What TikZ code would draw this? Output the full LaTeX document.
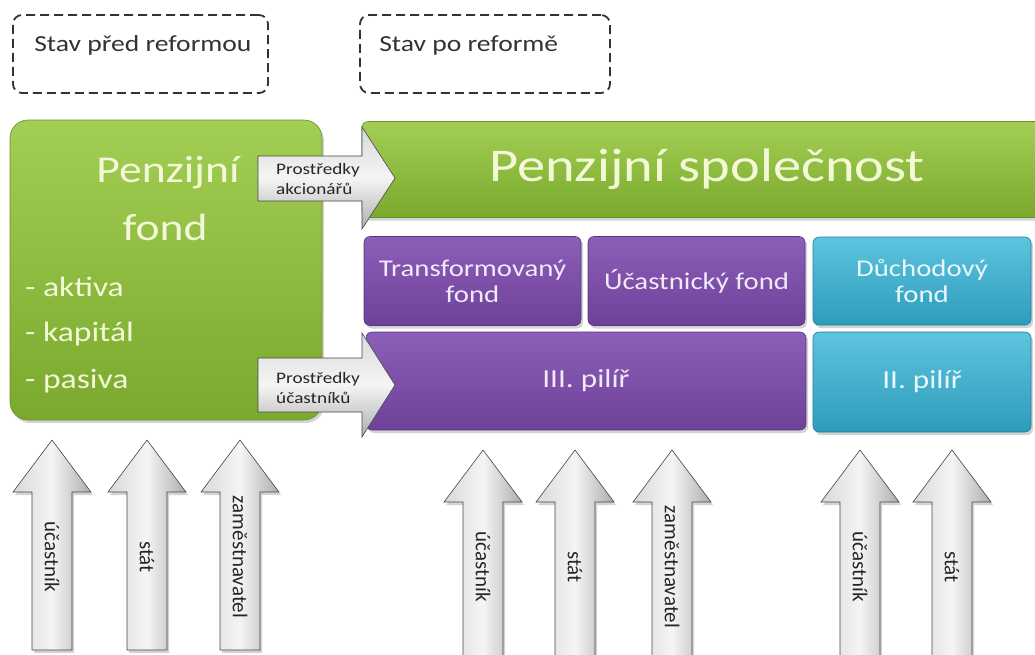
\documentclass[tikz,border=0pt]{standalone}
\usepackage{fontspec}
\setmainfont{Carlito}[FakeStretch=1.2]
\newfontfamily\payfont{Carlito}
\usetikzlibrary{positioning,shadows}

\definecolor{pfgreentop}{HTML}{A2CE53}
\definecolor{pfgreenbot}{HTML}{7AA92E}
\definecolor{pfcream}{HTML}{F3F8D6}
\definecolor{pilpurtop}{HTML}{8C5EB8}
\definecolor{pilpurbot}{HTML}{6E4199}
\definecolor{pilpurtext}{HTML}{F2E9F8}
\definecolor{pilteatop}{HTML}{5DC4DE}
\definecolor{pilteabot}{HTML}{2D9CBC}
\definecolor{pilteatext}{HTML}{E9F7FB}

\begin{document}
\begin{tikzpicture}[x=1pt,y=-1pt,
	statebox/.style={draw=black!80,line width=1.8pt,dash pattern=on 9pt off 5pt,rounded corners=9pt,minimum height=78pt,inner sep=0pt},
	statetext/.style={font=\fontsize{23}{26}\selectfont,text=black!80,inner sep=0pt},
	shadowed/.style={drop shadow={opacity=0.35,shadow xshift=2pt,shadow yshift=-3pt}},
	greenbox/.style={shadowed,top color=pfgreentop,bottom color=pfgreenbot,draw=pfgreenbot!85!black,line width=0.6pt,inner sep=0pt,text=pfcream},
	purplebox/.style={shadowed,rounded corners=6pt,top color=pilpurtop,bottom color=pilpurbot,draw=pilpurbot!80!black,line width=0.6pt,inner sep=0pt,text=pilpurtext,align=center,font=\fontsize{24}{26}\selectfont},
	tealbox/.style={purplebox,top color=pilteatop,bottom color=pilteabot,draw=pilteabot!80!black,text=pilteatext},
	fundarrow/.style={draw=gray!55!black,line width=0.6pt,top color=gray!30,bottom color=gray!65,middle color=gray!8},
	fundtext/.style={font=\fontsize{16}{20}\selectfont,align=left,inner sep=0pt,anchor=west,text=black!85},
	payarrow/.style={shadowed,draw=gray!55!black,line width=0.6pt,left color=gray!30,right color=gray!65,middle color=gray!8},
	paytext/.style={font=\payfont\fontsize{21}{24}\selectfont,rotate=-90,inner sep=0pt,text=black!85}
]
\useasboundingbox (0,0) rectangle (1035,654);

% before and after
\node[statebox,minimum width=255pt] (pred) at (140.5,54) {};
\node[statetext,right=22pt of pred.west,yshift=9pt] (predtext) {Stav před reformou};
\node[statebox,minimum width=250pt] (po) at (485,54) {};
\node[statetext,right=20pt of po.west,yshift=9pt] (potext) {Stav po reformě};

% old pension fund
\node[greenbox,rounded corners=18pt,minimum width=312pt,minimum height=300pt] (fond) at (166,270) {};
\node[text=pfcream,font=\fontsize{38}{40}\selectfont,anchor=base] (fondname) at (168,182) {Penzijní};
\node[text=pfcream,font=\fontsize{38}{40}\selectfont,anchor=base] (fondname2) at (165,240) {fond};
\node[text=pfcream,font=\fontsize{28}{30}\selectfont,anchor=base west,inner sep=0pt] (aktiva) at (25,296) {- aktiva};
\node[text=pfcream,font=\fontsize{28}{30}\selectfont,anchor=base west,inner sep=0pt] (kapital) at (25,341) {- kapitál};
\node[text=pfcream,font=\fontsize{28}{30}\selectfont,anchor=base west,inner sep=0pt] (pasiva) at (25,388) {- pasiva};

% new company
\node[greenbox,rounded corners=6pt,minimum width=690pt,minimum height=96pt,font=\fontsize{47}{50}\selectfont] (spol) at (707,169.5) {Penzijní společnost};
\node[purplebox,minimum width=217pt,minimum height=89pt] (transf) at (472.5,281) {Transformovaný\\fond};
\node[purplebox,minimum width=217pt,minimum height=89pt] (ucast) at (696.5,281) {Účastnický fond};
\node[tealbox,minimum width=218pt,minimum height=88pt] (duch) at (922,281) {Důchodový\\fond};
\node[purplebox,minimum width=440pt,minimum height=98pt,font=\fontsize{26}{28}\selectfont] (pilir3) at (586,381) {III. pilíř};
\node[tealbox,minimum width=218pt,minimum height=100pt,font=\fontsize{26}{28}\selectfont] (pilir2) at (922,382) {II. pilíř};

% transfer of money
\draw[fundarrow] (258,156) -- (362,156) -- (362,127) -- (395,178) -- (362,229) -- (362,201) -- (258,201) -- cycle;
\node[fundtext] (akcionari) at (276,179) {Prostředky\\akcionářů};
\draw[fundarrow] (258,358) -- (362,358) -- (362,333) -- (395,385) -- (362,437) -- (362,412) -- (258,412) -- cycle;
\node[fundtext] (ucastnici) at (276,388) {Prostředky\\účastníků};

% contributions
\foreach \cx/\ytop/\ybot/\who in {52/440/650/účastník,147/440/650/stát,240/440/650/zaměstnavatel,
	483/450/665/účastník,575/450/665/stát,672/450/665/zaměstnavatel,860/450/665/účastník,952/450/665/stát}{
	\draw[payarrow] (\cx-20,\ybot) -- (\cx-20,\ytop+52) -- (\cx-39,\ytop+52) -- (\cx,\ytop) -- (\cx+39,\ytop+52) -- (\cx+20,\ytop+52) -- (\cx+20,\ybot) -- cycle;
	\node[paytext] (pay-\cx) at (\cx,\ytop+117) {\who};
}
\end{tikzpicture}
\end{document}
